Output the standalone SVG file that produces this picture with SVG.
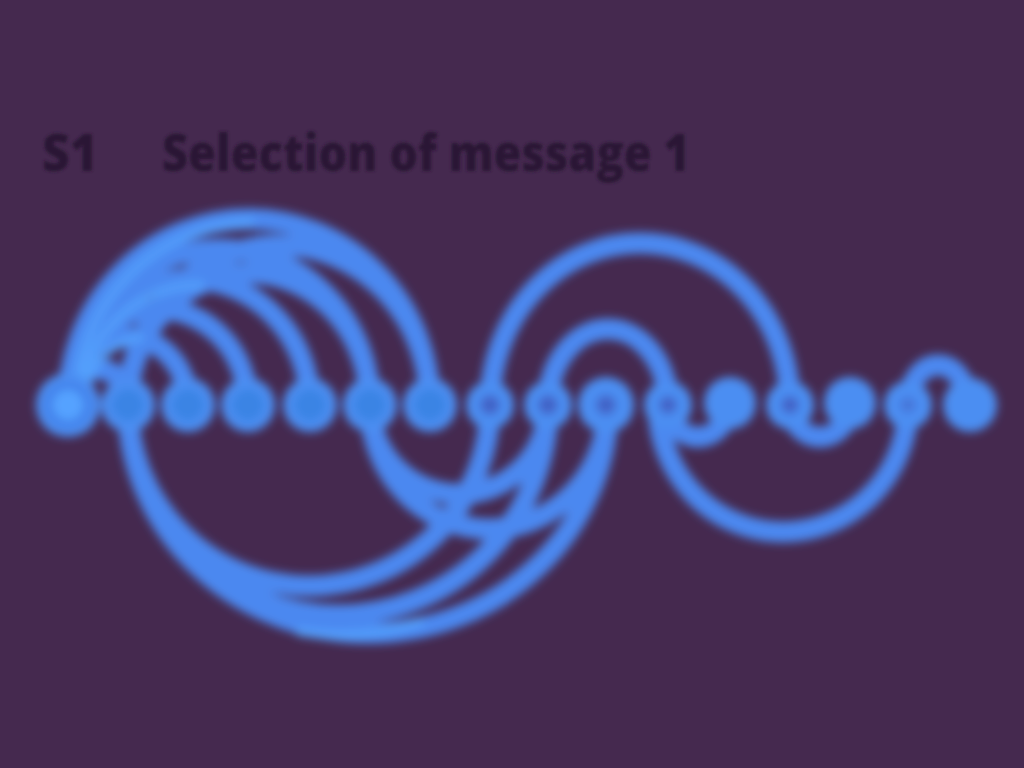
<svg xmlns="http://www.w3.org/2000/svg" width="1024" height="768" viewBox="0 0 1024 768">
<defs>
<filter id="blur" x="-10%" y="-10%" width="120%" height="120%"><feGaussianBlur stdDeviation="5"/></filter>
<filter id="tblur"><feGaussianBlur stdDeviation="1.6"/></filter>
<style>
.arc{fill:none;stroke:#4b88f0;stroke-width:21;stroke-linecap:round}
.hi{fill:none;stroke:#56a6ff;stroke-width:9;stroke-linecap:round;opacity:0.7}
.halo{fill:#4c8ef2}
.core{fill:#3a84e4}
.dark{fill:#4262c6}
.title{font-family:"Open Sans","Noto Sans",sans-serif;font-weight:800;fill:#2a1636}
</style>
</defs>
<rect width="1024" height="768" fill="#45294f"/>
<g filter="url(#tblur)">
<text class="title" x="42" y="171" font-size="52" textLength="56" lengthAdjust="spacingAndGlyphs">S1</text>
<text class="title" x="162" y="171" font-size="52" textLength="528" lengthAdjust="spacingAndGlyphs">Selection of message 1</text>
</g>
<g filter="url(#blur)">
<g id="connectors">
<path class="arc" d="M68,405 A30,36 0 0 1 128,405"/>
<path class="arc" d="M68,405 A60,68 0 0 1 188,405"/>
<path class="arc" d="M68,405 A90,96 0 0 1 248,405"/>
<path class="arc" d="M68,405 A121,126 0 0 1 310,405"/>
<path class="arc" d="M68,405 A151,156 0 0 1 370,405"/>
<path class="arc" d="M68,405 A181,186 0 0 1 430,405"/>
<path class="arc" d="M128,405 A151,160 0 0 1 430,405"/>
<path class="arc" d="M128,405 A121,132 0 0 1 370,405"/>
<path class="hi" d="M75,395 A181,186 0 0 1 250,222"/>
<path class="hi" d="M80,395 A121,126 0 0 1 200,285"/>
<path class="hi" d="M85,395 A60,68 0 0 1 140,338"/>
<path class="arc" d="M490,405 A150,162 0 0 1 790,405"/>
<path class="arc" d="M548,405 A60,76 0 0 1 668,405"/>
<path class="arc" d="M908,405 A30,40 0 0 1 968,405"/>
<path class="arc" d="M128,405 A181,181 0 0 0 490,405"/>
<path class="arc" d="M128,405 A210,210 0 0 0 548,405"/>
<path class="arc" d="M128,405 A240,228 0 0 0 608,405"/>
<path class="arc" d="M370,405 A89,89 0 0 0 548,405"/>
<path class="arc" d="M370,405 A119,124 0 0 0 608,405"/>
<path class="arc" d="M668,405 A30,32 0 0 0 728,405"/>
<path class="arc" d="M790,405 A30,32 0 0 0 850,405"/>
<path class="arc" d="M658,405 A125,127 0 0 0 908,405"/>
<path class="hi" d="M300,632 A240,228 0 0 0 420,622"/>
</g>
<g id="n0"><circle class="halo" cx="68" cy="405" r="32"/><circle cx="68" cy="405" r="19" fill="#55a2ff" stroke="#3f7ce8" stroke-width="6"/></g>
<g id="n1"><circle class="halo" cx="128" cy="405" r="27"/><circle class="core" cx="128" cy="405" r="16"/></g>
<g id="n2"><circle class="halo" cx="188" cy="405" r="27"/><circle class="core" cx="188" cy="405" r="16"/></g>
<g id="n3"><circle class="halo" cx="248" cy="405" r="27"/><circle class="core" cx="248" cy="405" r="16"/></g>
<g id="n4"><circle class="halo" cx="310" cy="405" r="27"/><circle class="core" cx="310" cy="405" r="16"/></g>
<g id="n5"><circle class="halo" cx="370" cy="405" r="27"/><circle class="core" cx="370" cy="405" r="16"/></g>
<g id="n6"><circle class="halo" cx="430" cy="405" r="27"/><circle class="core" cx="430" cy="405" r="16"/></g>
<g id="n7"><circle class="halo" cx="490" cy="405" r="24"/><circle class="dark" cx="490" cy="405" r="10"/></g>
<g id="n8"><circle class="halo" cx="548" cy="405" r="24"/><circle class="dark" cx="548" cy="405" r="10"/></g>
<g id="n9"><circle class="halo" cx="606" cy="405" r="28"/><circle class="dark" cx="606" cy="405" r="10"/></g>
<g id="n10"><circle class="halo" cx="668" cy="405" r="24"/><circle class="dark" cx="668" cy="405" r="9"/></g>
<g id="n11"><circle class="halo" cx="730" cy="403" r="26"/></g>
<g id="n12"><circle class="halo" cx="790" cy="405" r="24"/><circle class="dark" cx="790" cy="405" r="9"/></g>
<g id="n13"><circle class="halo" cx="850" cy="403" r="26"/></g>
<g id="n14"><circle class="halo" cx="908" cy="405" r="24"/><circle class="dark" cx="908" cy="405" r="8" opacity="0.6"/></g>
<g id="n15"><circle class="halo" cx="970" cy="405" r="27"/></g>
</g>
</svg>
